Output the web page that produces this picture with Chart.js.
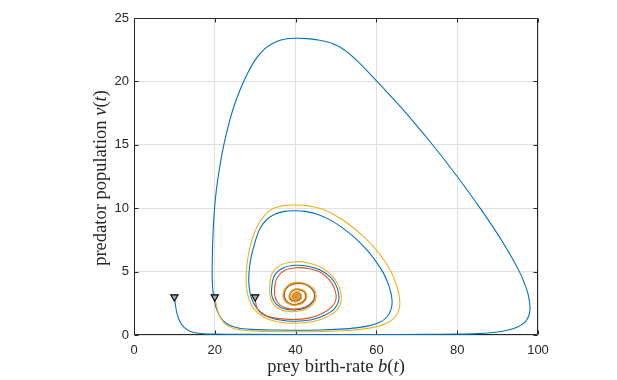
<!DOCTYPE html>
<html><head><meta charset="utf-8">
<script src="https://cdn.jsdelivr.net/npm/chart.js@4/dist/chart.umd.min.js"></script>
<style>html,body{margin:0;padding:0;background:#fff}#wrap{width:617px;height:380px;position:relative}</style>
</head><body><div id="wrap"><canvas id="c"></canvas></div>
<script>
const xTicks=[0,20,40,60,80,100];
const yTicks=[0,5,10,15,20,25];
const xLabel=[{t:'prey birth-rate '},{t:'b',i:1},{t:'('},{t:'t',i:1},{t:')'}];
const yLabel=[{t:'predator population '},{t:'v',i:1},{t:'('},{t:'t',i:1},{t:')'}];

const startB=[10,20,30];
const startV=[3,3,3];

const blueB=[
 10,10.2,10.6,11.3,12.4,14,16.5,20,30,45,60,72,80,85,88.3,91.5,94,95.8,96.9,97.7,98,
 97.9,97.4,96.6,95.7,93.8,91.5,89,85.8,80,73.4,66.8,62.5,58.5,55,52,49,46,43,40,
 37.5,35,32.3,30,27.9,26.1,24.6,23.35,22.3,21.45,20.75,20.2,19.8,19.55,19.4,19.35,
 19.5,19.9,20.6,21.7,23.4,25.8,29,34,40,46,51,55,58.3,60.8,62.6,63.6,63.9,
 63.6,62.9,61.7,60,57.8,54.9,51.6,48.4,45.2,42.4,40,37.2,34.7,32.7,31.1,29.8,28.9,28.45,28.5,29.1,30.3,32.8,36.2,40,
 44,47.2,49.7,50.7,50.3,48.8,46.2,43,40,37,34.8,34.1,34.2,35.3,37.5,40,
 42.5,44.3,44.8,44.2,42.4,40,38.1,37.1,37.4,38.6,40.2,41.9,42.6,42.2,40.8,39.3,38.5,38.7,39.8,41,41.4,40.9,39.9,39.2,39.4,40.2,40.8,40.5,39.8,39.6,40,40.4,40.1,40];
const blueV=[
 3,2.5,1.75,1.1,0.6,0.28,0.12,0.07,0.05,0.04,0.04,0.05,0.07,0.11,0.18,0.32,0.52,0.78,1.05,1.5,2.0,
 2.6,3.4,4.1,4.8,5.95,7.2,8.45,9.95,12.5,15.2,17.7,19.2,20.55,21.7,22.5,23.0,23.25,23.37,23.4,
 23.35,23.1,22.55,21.7,20.5,19.2,17.9,16.5,15.1,13.7,12.3,10.9,9.4,7.9,6.3,4.7,
 3.6,2.7,1.9,1.25,0.8,0.55,0.44,0.39,0.38,0.4,0.46,0.56,0.74,1.0,1.42,2.0,2.6,
 3.3,4.05,4.9,5.75,6.65,7.6,8.45,9.1,9.55,9.75,9.8,9.75,9.5,9.05,8.35,7.15,6.0,4.8,3.8,2.9,2.15,1.5,1.18,1.08,
 1.2,1.55,2.1,2.8,3.7,4.5,5.1,5.42,5.5,5.3,4.7,3.8,3.0,2.4,2.05,1.98,
 2.15,2.6,3.1,3.6,4.0,4.1,3.85,3.3,2.8,2.45,2.4,2.6,3.0,3.4,3.6,3.5,3.15,2.8,2.65,2.8,3.05,3.3,3.35,3.1,2.85,2.8,3.0,3.2,3.2,3.0,2.9,3.0,3.1,3.0];

const yellowB=[
 20,20.4,21.1,22.3,24.3,27.5,33,40,47,53,57.5,60.8,63.2,64.8,65.6,65.8,
 65.5,64.8,63.6,61.9,59.6,56.5,53.1,49.8,46.5,43.2,40,
 37,34.3,32.2,30.5,29.2,28.3,27.8,27.8,28.3,29.6,32.2,35.8,40,
 44.2,47.6,50.3,51.3,50.9,49.2,46.5,43.2,40,36.5,34.2,33.6,33.8,35,37.4,40,
 42.7,44.6,45.1,44.5,42.5,40,38,36.9,37.2,38.5,40.2,42,42.8,42.3,40.8,39.2,38.4,38.6,39.8,41.1,41.5,41,39.9,39.1,39.3,40.2,40.9,40.6,39.8,39.5,40,40.45,40.1,40];
const yellowV=[
 3,2.3,1.55,0.95,0.55,0.36,0.28,0.26,0.28,0.36,0.5,0.72,1.05,1.5,2.0,2.6,
 3.3,4.1,5.0,5.9,6.85,7.85,8.75,9.45,9.93,10.18,10.25,
 10.2,9.95,9.4,8.55,7.5,6.3,5.0,3.9,3.0,2.1,1.4,1.03,0.93,
 1.05,1.4,2.0,2.75,3.7,4.6,5.3,5.68,5.78,5.55,4.85,3.85,2.9,2.25,1.9,1.85,
 2.05,2.55,3.1,3.65,4.05,4.15,3.9,3.3,2.75,2.4,2.35,2.55,3.0,3.45,3.65,3.55,3.15,2.75,2.6,2.75,3.05,3.35,3.4,3.12,2.83,2.77,3.0,3.22,3.23,3.0,2.88,3.0,3.12,3.0];

const orangeB=[30,30.2,30.9,32.3,34.6,37.5,40,43.5,46.6,48.9,50,49.7,48.2,45.8,43,40,37.3,35.4,34.8,35,36.2,38,40,42.4,44.2,44.7,44.1,42.3,40,38.1,37.2,37.5,38.7,40.2,41.8,42.5,42.1,40.7,39.3,38.6,38.8,39.8,40.9,41.3,40.8,39.9,39.3,39.5,40.2,40.7,40.4,39.8,39.65,40,40.3,40.05,40];
const orangeV=[3,2.4,1.9,1.55,1.35,1.25,1.23,1.35,1.7,2.2,2.8,3.6,4.4,5.0,5.25,5.3,5.1,4.5,3.7,2.9,2.35,2.1,2.05,2.2,2.65,3.1,3.6,4.0,4.05,3.8,3.3,2.8,2.47,2.42,2.62,3.0,3.4,3.58,3.48,3.15,2.82,2.68,2.82,3.05,3.28,3.32,3.1,2.87,2.82,3.0,3.17,3.17,3.0,2.92,3.0,3.07,3.0];

function pts(bs,vs){return bs.map((b,i)=>({x:b,y:vs[i]}));}
const INK='#262626';
const SERIF='"Liberation Serif"';

function lineDs(bs,vs,color,order){
  return {data:pts(bs,vs),showLine:true,borderColor:color,backgroundColor:color,borderWidth:1.1,
    pointRadius:0,pointHoverRadius:0,tension:0.35,fill:false,order:order};
}

function richWidth(ctx,segs,size){
  let w=0;
  segs.forEach(s=>{ctx.font=(s.i?'italic ':'')+size+'px '+SERIF;s.w=ctx.measureText(s.t).width;w+=s.w;});
  return w;
}
function drawRich(ctx,segs,size){
  const w=richWidth(ctx,segs,size);
  let x=-w/2;
  ctx.textAlign='left';ctx.textBaseline='middle';ctx.fillStyle=INK;
  segs.forEach(s=>{ctx.font=(s.i?'italic ':'')+size+'px '+SERIF;ctx.fillText(s.t,x,0);x+=s.w;});
}

const boxPlugin={
  id:'box',
  beforeDatasetsDraw(chart){
    const {ctx,chartArea:a,scales}=chart;
    ctx.save();
    ctx.strokeStyle=INK;ctx.lineWidth=1;
    const L=Math.round(a.left)+0.5,R=Math.round(a.right)-0.5,T=Math.round(a.top)+0.5,B=Math.round(a.bottom)-0.5;
    ctx.beginPath();ctx.rect(L,T,R-L,B-T);ctx.stroke();
    const tl=4;
    ctx.beginPath();
    xTicks.forEach(v=>{const x=Math.round(scales.x.getPixelForValue(v))+0.5;
      ctx.moveTo(x,B);ctx.lineTo(x,B-tl);ctx.moveTo(x,T);ctx.lineTo(x,T+tl);});
    yTicks.forEach(v=>{const y=Math.round(scales.y.getPixelForValue(v))+0.5;
      ctx.moveTo(L,y);ctx.lineTo(L+tl,y);ctx.moveTo(R,y);ctx.lineTo(R-tl,y);});
    ctx.stroke();
    ctx.restore();
  },
  afterDraw(chart){
    const {ctx,chartArea:a}=chart;
    ctx.save();
    ctx.translate((a.left+a.right)/2,367);
    drawRich(ctx,xLabel,18.5);
    ctx.restore();
    ctx.save();
    ctx.translate(101,178);
    ctx.rotate(-Math.PI/2);
    drawRich(ctx,yLabel,18.5);
    ctx.restore();
  }
};

new Chart(document.getElementById('c'),{
  type:'scatter',
  data:{datasets:[
    {data:pts(startB,startV),pointStyle:'triangle',rotation:180,radius:4,pointRadius:4.2,
      backgroundColor:'#a8a8a8',borderColor:'#000',borderWidth:1.1,order:0,showLine:false},
    lineDs(yellowB,yellowV,'#EDB120',1),
    lineDs(orangeB,orangeV,'#D95319',2),
    lineDs(blueB,blueV,'#0072BD',3)
  ]},
  options:{
    responsive:true,maintainAspectRatio:false,animation:false,events:[],
    layout:{padding:{top:18,right:79,left:0,bottom:0}},
    plugins:{legend:{display:false},tooltip:{enabled:false}},
    scales:{
      x:{type:'linear',min:0,max:100,
        afterBuildTicks(s){s.ticks=xTicks.map(v=>({value:v}));},
        afterFit(s){s.height=45;},
        border:{display:false},
        grid:{color:'#dfdfdf',lineWidth:1,drawTicks:false},
        ticks:{padding:8,color:INK,font:{family:'"Liberation Sans"',size:13},maxRotation:0}},
      y:{type:'linear',min:0,max:25,
        afterBuildTicks(s){s.ticks=yTicks.map(v=>({value:v}));},
        afterFit(s){s.width=134;},
        border:{display:false},
        grid:{color:'#dfdfdf',lineWidth:1,drawTicks:false},
        ticks:{padding:5,color:INK,font:{family:'"Liberation Sans"',size:13}}}
    }
  },
  plugins:[boxPlugin]
});
</script></body></html>
